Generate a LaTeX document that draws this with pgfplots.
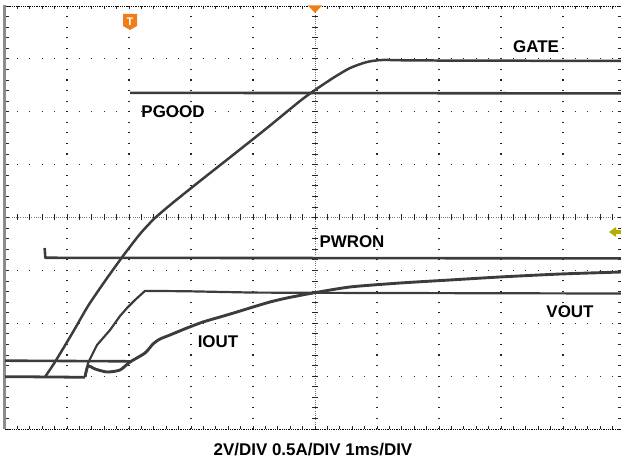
\documentclass[border=0pt]{standalone}
\usepackage{pgfplots}
\pgfplotsset{compat=1.18}
\usepackage{fontspec}
\setmainfont{Liberation Sans}
\definecolor{trace}{HTML}{3C3C3C}
\definecolor{scopeorange}{HTML}{F07D16}
\definecolor{scopeolive}{HTML}{B5AE00}
\begin{document}
\begin{tikzpicture}[x=1bp,y=1bp]
\useasboundingbox (0,0) rectangle (621,462);
% ---- graticule ----
\foreach \i in {1,2,3,4,6,7,8,9} {
  \draw[black!85, line width=1.1bp, dash pattern=on 1.1bp off 9.475bp, dash phase=0.55bp] ({5+62*\i},33) -- ({5+62*\i},456);
}
\foreach \j in {1,2,3,5,6,7} {
  \draw[black!85, line width=1.1bp, dash pattern=on 1.1bp off 11.3bp, dash phase=0.55bp] (5,{33+52.875*\j}) -- (621,{33+52.875*\j});
}
% centre lines
\draw[black!55, line width=0.8bp, dash pattern=on 0.8bp off 1.4bp] (315,33) -- (315,456);
\draw[black!55, line width=0.8bp, dash pattern=on 0.8bp off 1.4bp] (5,244.5) -- (621,244.5);
\foreach \k in {0,...,40} {
  \draw[black!85, line width=0.8bp] (312,{33+10.575*\k}) -- (318,{33+10.575*\k});
}
\foreach \k in {0,...,50} {
  \draw[black!85, line width=0.8bp] ({5+12.4*\k},241.5) -- ({5+12.4*\k},247.5);
  \draw[black!85, line width=0.8bp] ({5+12.4*\k},456) -- ({5+12.4*\k},453);
  \draw[black!85, line width=0.8bp] ({5+12.4*\k},33) -- ({5+12.4*\k},36);
}
\foreach \k in {0,...,40} {
  \draw[black!85, line width=0.8bp] (5,{33+10.575*\k}) -- (8.5,{33+10.575*\k});
  \draw[black!85, line width=0.8bp] (621,{33+10.575*\k}) -- (617.5,{33+10.575*\k});
}
% borders
\draw[black, line width=0.9bp, dash pattern=on 0.9bp off 0.9bp] (5,456) -- (621,456);
\draw[black, line width=0.9bp, dash pattern=on 0.9bp off 0.9bp] (5,33) -- (621,33);
\draw[black!45, line width=2.6bp] (4.5,33) -- (4.5,456.5);
% ---- traces ----
\begin{axis}[at={(5bp,33bp)}, anchor=south west, scale only axis,
  width=616bp, height=423bp, xmin=0, xmax=9.935, ymin=0, ymax=8,
  axis line style={draw=none}, ticks=none, clip=true,
  every axis plot/.append style={draw=trace, mark=none, line join=round}]
% line A (PGOOD low)
\addplot[line width=2.6pt] coordinates {(0,1.292) (1.0,1.286) (2.016,1.280)};
% PGOOD high
\addplot[line width=2.6pt] coordinates {(2.016,6.358) (6,6.352) (9.935,6.346)};
% PWRON
\addplot[line width=2.6pt] coordinates {(0.640,3.423) (0.650,3.238) (5,3.233) (9.935,3.226)};
% common baseline
\addplot[line width=2.8pt] coordinates {(0,0.990) (0.6,0.985) (1.290,0.978)};
% GATE
\addplot[line width=2.5pt, smooth, tension=0.4] coordinates {
(0.645,0.983) (0.806,1.267) (1.097,1.835) (1.339,2.326) (1.613,2.799)
(1.903,3.272) (2.177,3.688) (2.419,3.991) (2.742,4.312) (3.145,4.690)
(3.677,5.182) (4.226,5.693) (4.758,6.203) (5.0,6.411) (5.290,6.638)
(5.565,6.827) (5.839,6.941) (6.097,6.979) (6.694,6.970) (9.935,6.960)};
% VOUT
\addplot[line width=2.2pt] coordinates {
(1.290,0.983) (1.339,1.248) (1.484,1.589) (1.694,1.872) (1.855,2.137)
(1.968,2.288) (2.097,2.440) (2.258,2.612) (2.935,2.605) (4.0,2.580)
(5.0,2.575) (9.935,2.562)};
% IOUT
\addplot[line width=2.9pt, smooth, tension=0.4] coordinates {
(1.290,0.983) (1.339,1.191) (1.452,1.135) (1.645,1.078) (1.855,1.116)
(2.016,1.267) (2.258,1.437) (2.387,1.608) (2.5,1.702) (2.661,1.778)
(2.935,1.910) (3.194,2.024) (3.468,2.118) (3.742,2.213) (4.0,2.307)
(4.274,2.402) (4.548,2.478) (4.968,2.572) (5.565,2.686) (6.371,2.761)
(7.177,2.818) (7.984,2.875) (8.952,2.931) (9.935,2.969)};
\end{axis}
% ---- markers ----
\fill[scopeorange] (123,448) -- (137,448) -- (137,436) -- (130,432) -- (123,436) -- cycle;
\node[white, font=\fontsize{11}{11}\selectfont\bfseries, inner sep=0] at (130,440.5) {T};
\fill[scopeorange] (308,456.5) -- (322,456.5) -- (315,449) -- cycle;
\fill[scopeolive] (609,230) -- (616,235) -- (616,232) -- (621,232) -- (621,228) -- (616,228) -- (616,225) -- cycle;
% ---- labels ----
\tikzset{lab/.style={font=\fontsize{17}{17}\selectfont\bfseries, inner sep=0, text=black}}
\node[lab] at (536,415.5) {GATE};
\node[lab] at (173,350.5) {PGOOD};
\node[lab] at (352,220.5) {PWRON};
\node[lab] at (570,150.5) {VOUT};
\node[lab] at (218,120) {IOUT};
\node[font=\fontsize{17}{17}\selectfont\bfseries, inner sep=0] at (313,12) {2V/DIV 0.5A/DIV 1ms/DIV};
\end{tikzpicture}
\end{document}
